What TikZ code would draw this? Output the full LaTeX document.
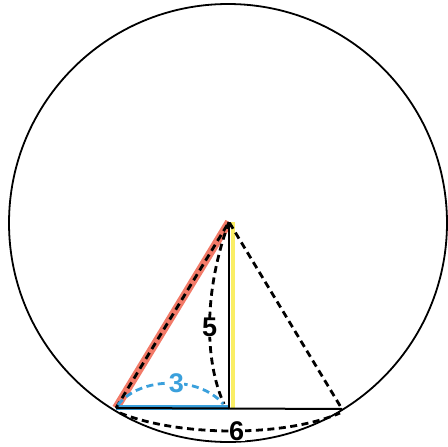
\documentclass[tikz,border=0pt]{standalone}
\usepackage{fontspec}
\setmainfont{Liberation Sans}
\definecolor{edgered}{RGB}{242,122,104}
\definecolor{heightyellow}{RGB}{250,238,100}
\definecolor{radiusblue}{RGB}{58,160,220}

\tikzset{
    dashline/.style={dash pattern=on 7pt off 4.5pt, line width=2.8pt},
    numlabel/.style={font=\bfseries\fontsize{27}{27}\selectfont, fill=white, inner sep=0.3pt}
}

\begin{document}
\begin{tikzpicture}[x=1pt, y=-1pt, line width=1.8pt]
    \useasboundingbox (0,0) rectangle (448,447);
    \coordinate (centre) at (228,223);
    \coordinate (apex) at (229,222);
    \coordinate (bl) at (116,408);
    \coordinate (br) at (342,409);
    \coordinate (foot) at (229,408);
    \draw (centre) circle (219);
    % slant edge, height, base
    \draw[edgered, line width=8pt] (bl) -- (apex);
    \draw[heightyellow, line width=4pt] ([xshift=3.5pt]apex) -- ([xshift=3.5pt]foot);
    \draw[radiusblue, line width=5pt] ([yshift=1pt]bl) -- ([yshift=1pt]foot);
    \draw[line width=2pt] (bl) -- (br);
    \draw[line width=2.4pt] (apex) -- (foot);
    \draw[dashline] (bl) -- (apex) -- (br);
    % measures
    \draw[dashline] (apex) .. controls (204,290) and (204,360) .. (224,404) node[numlabel, pos=.53] (h) {5};
    \draw[dashline, radiusblue] (118,405) .. controls (140,376) and (200,376) .. (223,404) node[numlabel, text=radiusblue, pos=.55] (r) {3};
    \draw[dashline] (120,413) .. controls (180,437) and (285,437) .. (340,413) node[numlabel, pos=.52] (d) {6};
\end{tikzpicture}
\end{document}
